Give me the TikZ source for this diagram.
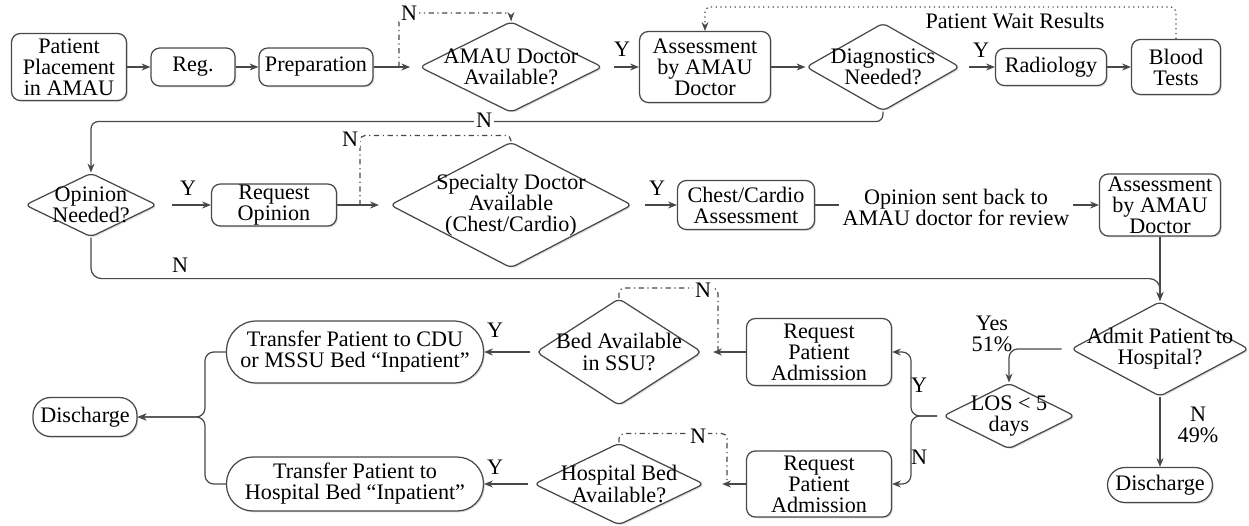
\documentclass[tikz,border=0pt]{standalone}
\usepackage{fontspec}
\setmainfont{Liberation Serif}
\usetikzlibrary{shapes.geometric,arrows.meta,shadows}
\definecolor{linegray}{HTML}{484848}

\begin{document}
\begin{tikzpicture}[x=0.02cm, y=-0.02cm,
    font=\fontsize{12.6}{12}\selectfont,
    box/.style={draw=linegray, line width=0.7pt, rounded corners=5pt, fill=white, align=center, inner sep=0pt,
        drop shadow={shadow xshift=0.8pt, shadow yshift=-0.8pt, opacity=0.25}},
    pill/.style={box, rounded corners=#1},
    dia/.style={diamond, draw=linegray, line width=0.7pt, rounded corners=3pt, fill=white, inner sep=0pt,
        drop shadow={shadow xshift=0.8pt, shadow yshift=-0.8pt, opacity=0.25}},
    conn/.style={draw=linegray, line width=0.7pt},
    arr/.style={conn, -{Stealth[length=5pt, width=4pt]}},
    nloop/.style={conn, dash dot, rounded corners=3pt},
    lbl/.style={inner sep=1pt, fill=white}]

    \useasboundingbox (0,0) rectangle (1249,525);

    % first row
    \node[box, minimum width=2.3cm, minimum height=1.34cm] (place) at (69,67) {Patient\\Placement\\in AMAU};
    \node[box, minimum width=1.68cm, minimum height=0.76cm] (reg) at (193,67) {Reg.};
    \node[box, minimum width=2.28cm, minimum height=0.76cm] (prep) at (316,67) {Preparation};
    \node[dia, minimum width=3.66cm, minimum height=1.82cm, label={[align=center]center:AMAU Doctor\\Available?}] (amau) at (511,67) {};
    \node[box, minimum width=2.62cm, minimum height=1.42cm] (assess1) at (705,67) {Assessment\\by AMAU\\Doctor};
    \node[dia, minimum width=3.08cm, minimum height=1.76cm, label={[align=center]center:Diagnostics\\Needed?}] (diag) at (883,67) {};
    \node[box, minimum width=2.22cm, minimum height=0.74cm] (radio) at (1051,67) {Radiology};
    \node[box, minimum width=1.78cm, minimum height=1.1cm] (blood) at (1176,67) {Blood\\Tests};

    \draw[arr] (place.east) -- (reg.west);
    \draw[arr] (reg.east) -- (prep.west);
    \draw[arr, shorten >=5pt] (prep.east) -- (amau.west);
    \coordinate (nl1) at (399,67);
    \draw[nloop, -{Stealth[length=5pt, width=4pt]}] (nl1) -- ++(0,-54) -| (amau.north);
    \node[lbl] (n1) at (409,13) {N};
    \draw[arr, shorten <=6pt] (amau.east) -- (assess1.west);
    \node (y1) at (622,49) {Y};
    \draw[arr] (assess1.east) -- (diag.west);
    \draw[arr, shorten <=5pt] (diag.east) -- (radio.west);
    \node (y2) at (981,50) {Y};
    \draw[arr] (radio.east) -- (blood.west);
    \draw[conn, dotted, rounded corners=3pt, -{Stealth[length=5pt, width=4pt]}] (blood.north) -- ++(0,-32) -| (assess1.north);
    \node (wait) at (1015,21) {Patient Wait Results};

    % second row
    \node[dia, minimum width=2.64cm, minimum height=1.28cm, label={[align=center]center:Opinion\\Needed?}] (opin) at (91,205) {};
    \node[box, minimum width=2.5cm, minimum height=0.84cm] (reqop) at (274,205) {Request\\Opinion};
    \node[dia, minimum width=4.84cm, minimum height=2.52cm, label={[align=center]center:Specialty Doctor\\Available\\(Chest/Cardio)}] (spec) at (511,205) {};
    \node[box, minimum width=2.74cm, minimum height=0.98cm] (chest) at (746,205) {Chest/Cardio\\Assessment};
    \node[align=center, inner sep=2pt] (sent) at (956,207) {Opinion sent back to\\AMAU doctor for review};
    \node[box, minimum width=2.42cm, minimum height=1.24cm] (assess2) at (1160,205) {Assessment\\by AMAU\\Doctor};

    \draw[arr, rounded corners=4pt] (diag.south) -- ++(0,10) -| (opin.north);
    \node[lbl] (n2) at (484,120) {N};
    \draw[arr, shorten <=8pt] (opin.east) -- (reqop.west);
    \node (y3) at (188,188) {Y};
    \draw[arr, shorten >=6pt] (reqop.east) -- (spec.west);
    \coordinate (nl2) at (360,205);
    \draw[nloop] (spec.north) -- ++(0,-6) -| (nl2);
    \node[lbl] (n3) at (350,139) {N};
    \draw[arr, shorten <=7pt] (spec.east) -- (chest.west);
    \node (y4) at (657,188) {Y};
    \draw[conn] (chest.east) -- (sent.west |- chest.east);
    \draw[arr] (sent.east |- assess2.west) -- (assess2.west);

    % third and fourth row
    \node[dia, minimum width=3.56cm, minimum height=1.9cm, label={[align=center]center:Admit Patient to\\Hospital?}] (admit) at (1160,349) {};
    \node[pill=10pt, minimum width=2.1cm, minimum height=0.7cm] (dis2) at (1160,485) {Discharge};
    \node[dia, minimum width=2.64cm, minimum height=1.32cm, label={[align=center]center:LOS < 5\\days}] (los) at (1009,416) {};
    \node[box, minimum width=2.9cm, minimum height=1.34cm] (req1) at (819,352) {Request\\Patient\\Admission};
    \node[box, minimum width=2.9cm, minimum height=1.32cm] (req2) at (819,484) {Request\\Patient\\Admission};
    \node[dia, minimum width=3.32cm, minimum height=2.14cm, label={[align=center]center:Bed Available\\in SSU?}] (bed1) at (619,352) {};
    \node[dia, minimum width=3.4cm, minimum height=1.64cm, label={[align=center]center:Hospital Bed\\Available?}] (bed2) at (619,484) {};
    \node[pill=17pt, minimum width=5.14cm, minimum height=1.24cm] (tr1) at (355,352) {Transfer Patient to CDU\\or MSSU Bed “Inpatient”};
    \node[pill=15pt, minimum width=5.14cm, minimum height=1.08cm] (tr2) at (355,484) {Transfer Patient to\\Hospital Bed “Inpatient”};
    \node[pill=10pt, minimum width=2.08cm, minimum height=0.78cm] (dis1) at (85,417) {Discharge};

    \draw[arr] (assess2.south) -- (admit.north);
    \draw[arr, rounded corners=6pt] (opin.south) -- ++(0,41) -| (admit.north);
    \node (n4) at (180,265) {N};
    \draw[arr, rounded corners=5pt, shorten <=5pt] (admit.west) -| (los.north);
    \node[align=center] (yes) at (992,334) {Yes\\51\%};
    \draw[arr] (admit.south) -- (dis2.north);
    \node[align=center] (no) at (1198,425) {N\\49\%};
    \coordinate (br) at (911,416);
    \draw[arr, rounded corners=5pt, shorten <=3pt] (los.west) -- (br) |- (req1.east);
    \draw[arr, rounded corners=5pt, shorten <=3pt] (los.west) -- (br) |- (req2.east);
    \node (y5) at (919,385) {Y};
    \node (n5) at (919,457) {N};
    \draw[arr, shorten >=6pt] (req1.west) -- (bed1.east);
    \draw[arr, shorten >=10pt] (req2.west) -- (bed2.east);
    \coordinate (nl3) at (718,352);
    \draw[nloop] (bed1.north) -- ++(0,-10) -| (nl3);
    \node[lbl] (n6) at (703,290) {N};
    \coordinate (nl4) at (727,484);
    \draw[nloop] (bed2.north) -- ++(0,-9) -| (nl4);
    \node[lbl] (n7) at (698,436) {N};
    \draw[arr, shorten <=3pt] (bed1.west) -- (tr1.east);
    \node (y6) at (495,330) {Y};
    \draw[arr, shorten <=3pt] (bed2.west) -- (tr2.east);
    \node (y7) at (495,467) {Y};
    \coordinate (mg) at (205,417);
    \draw[arr, rounded corners=5pt] (tr1.west) -| (mg) -- (dis1.east);
    \draw[arr, rounded corners=5pt] (tr2.west) -| (mg) -- (dis1.east);
\end{tikzpicture}
\end{document}
